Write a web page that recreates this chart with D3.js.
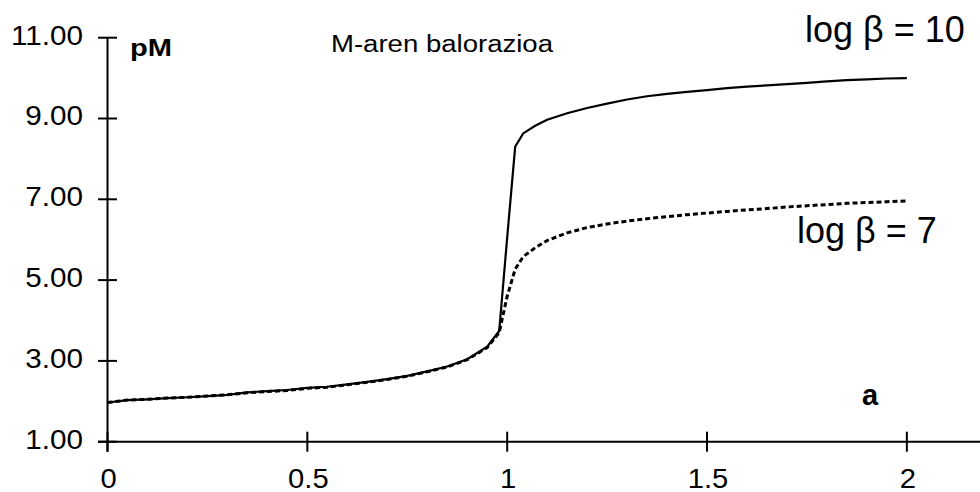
<!DOCTYPE html>
<html><head><meta charset="utf-8">
<script src="https://cdn.jsdelivr.net/npm/d3@7"></script>
<style>body{margin:0;background:#fff;} svg{display:block;font-family:"Liberation Sans",Arial,sans-serif;}</style>
</head><body>
<svg id="c" width="980" height="492"></svg>
<script>
// ratio a (x values)
const aValues = [0,0.05,0.1,0.15,0.2,0.25,0.3,0.35,0.4,0.45,0.5,0.55,0.6,0.65,0.7,0.75,0.8,0.85,0.9,0.95,0.98,1.0,1.02,1.04,1.07,1.1,1.15,1.2,1.25,1.3,1.35,1.4,1.45,1.5,1.55,1.6,1.65,1.7,1.75,1.8,1.85,1.9,1.95,2.0];
// pM, log beta = 10
const pM10 = [1.97,2.03,2.05,2.08,2.10,2.13,2.16,2.22,2.25,2.28,2.33,2.36,2.42,2.48,2.55,2.63,2.74,2.86,3.04,3.35,3.74,6.05,8.30,8.63,8.82,8.97,9.13,9.26,9.37,9.47,9.55,9.61,9.66,9.70,9.75,9.79,9.82,9.85,9.88,9.92,9.95,9.97,9.99,10.0];
// pM, log beta = 7
const pM7 = [1.97,2.03,2.05,2.08,2.10,2.13,2.16,2.21,2.24,2.27,2.32,2.35,2.41,2.47,2.54,2.62,2.73,2.85,3.03,3.33,3.70,4.60,5.27,5.58,5.80,5.98,6.17,6.30,6.39,6.46,6.52,6.57,6.62,6.66,6.70,6.74,6.77,6.81,6.84,6.87,6.90,6.92,6.94,6.96];
const xTicks = [0,0.5,1,1.5,2];
const xTickLabels = ["0","0.5","1","1.5","2"];
const yTicks = [1,3,5,7,9,11];
const yTickLabels = ["1.00","3.00","5.00","7.00","9.00","11.00"];
const title = "M-aren balorazioa";
const yLabel = "pM";
const seriesLabels = ["log \u03B2 = 10","log \u03B2 = 7"];
const panelLabel = "a";

const svg = d3.select("#c");
const x = d3.scaleLinear().domain([0,2.183]).range([107.5,980]);
const y = d3.scaleLinear().domain([1,11]).range([441.7,37.7]);

// axes
const ax = svg.append("g").attr("stroke","#000").attr("stroke-width",2);
ax.append("line").attr("x1",98).attr("x2",980).attr("y1",y(1)).attr("y2",y(1));
ax.append("line").attr("x1",x(0)).attr("x2",x(0)).attr("y1",y(11)).attr("y2",y(1)+10);
ax.selectAll(".yt").data(yTicks).join("line")
  .attr("x1",x(0)-9.5).attr("x2",x(0)+9.5).attr("y1",d=>y(d)).attr("y2",d=>y(d));
ax.selectAll(".xt").data(xTicks).join("line")
  .attr("x1",d=>x(d)).attr("x2",d=>x(d)).attr("y1",y(1)-10).attr("y2",y(1)+10);

svg.selectAll(".yl").data(yTicks).join("text")
  .attr("text-anchor","end").attr("font-size",28)
  .attr("transform",d=>`translate(83,${y(d)+6.8}) scale(1.06,1)`)
  .text((d,i)=>yTickLabels[i]);
svg.selectAll(".xl").data(xTicks).join("text")
  .attr("text-anchor","middle").attr("font-size",27)
  .attr("transform",d=>`translate(${x(d)+1},${y(1)+46}) scale(1.08,1)`)
  .text((d,i)=>xTickLabels[i]);

// lines
const pts10 = aValues.map((a,i)=>[a,pM10[i]]);
const pts7 = aValues.map((a,i)=>[a,pM7[i]]);
const line = d3.line().x(d=>x(d[0])).y(d=>y(d[1]));
svg.append("path").attr("d",line(pts7)).attr("fill","none").attr("stroke","#000")
  .attr("stroke-width",3).attr("stroke-dasharray","5,3");
svg.append("path").attr("d",line(pts10)).attr("fill","none").attr("stroke","#000")
  .attr("stroke-width",2.2);

// texts
svg.append("text").attr("x",130).attr("y",56).attr("font-size",24).attr("font-weight","bold")
  .attr("textLength",42).attr("lengthAdjust","spacingAndGlyphs").text(yLabel);
svg.append("text").attr("x",331).attr("y",52).attr("font-size",23)
  .attr("textLength",222).attr("lengthAdjust","spacingAndGlyphs").text(title);
svg.append("text").attr("x",805).attr("y",42).attr("font-size",36).text(seriesLabels[0]);
svg.append("text").attr("x",797).attr("y",243).attr("font-size",36).text(seriesLabels[1]);
svg.append("text").attr("x",862).attr("y",405).attr("font-size",29).attr("font-weight","bold").text(panelLabel);
</script>
</body></html>
